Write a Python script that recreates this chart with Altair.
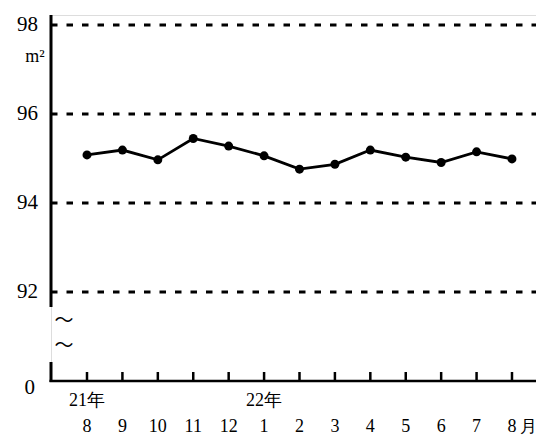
import altair as alt
import pandas as pd

# ---- data ----
months = ["8", "9", "10", "11", "12", "1", "2", "3", "4", "5", "6", "7", "8"]
values = [95.08, 95.19, 94.97, 95.45, 95.28, 95.06, 94.76, 94.87, 95.19, 95.03, 94.91, 95.15, 94.99]
year_labels = ["21年", "22年"]
year_index = [0, 5]
y_ticks = [98, 96, 94, 92]
zero_label = "0"
break_value = 90  # the axis is broken: 0 drawn at the 90 position
unit_label = "m²"
month_suffix = "月"
break_mark = "〜"

W, H = 485, 366
FONT = "Liberation Serif"
CJK = "Noto Sans CJK JP"

df = pd.DataFrame({"i": list(range(len(months))), "v": values, "m": months})
df_years = pd.DataFrame({"i": year_index, "t": year_labels})
df_y = pd.DataFrame({"v": y_ticks, "t": [str(v) for v in y_ticks]})
df_zero = pd.DataFrame({"v": [break_value], "t": [zero_label]})
one = pd.DataFrame({"k": [0]})

xs = alt.Scale(domain=[-1.0165, 12.678], nice=False, zero=False)
ys = alt.Scale(domain=[90, 98.2247], nice=False, zero=False)

X = alt.X("i:Q", scale=xs, axis=None)
Y = alt.Y("v:Q", scale=ys, axis=None)

base = alt.Chart(df)
single = alt.Chart(one)

grid = alt.Chart(df_y).mark_rule(color="black", strokeWidth=3, strokeDash=[6.5, 9]).encode(
    y=alt.Y("v:Q", scale=ys, axis=None), x=alt.value(0), x2=alt.value(W)
)

yaxis1 = single.mark_rule(color="black", strokeWidth=3).encode(
    x=alt.value(0), y=alt.value(0), y2=alt.value(292)
)
yaxis2 = single.mark_rule(color="black", strokeWidth=3).encode(
    x=alt.value(0), y=alt.value(347), y2=alt.value(H + 1)
)
xaxis = single.mark_rule(color="black", strokeWidth=2.5).encode(
    x=alt.value(-1.5), x2=alt.value(W), y=alt.value(H)
)
xticks = base.mark_rule(color="black", strokeWidth=2.5).encode(
    x=X, y=alt.value(H - 9), y2=alt.value(H)
)

ylab = alt.Chart(df_y).mark_text(align="right", baseline="middle", font=FONT, fontSize=21).encode(
    y=alt.Y("v:Q", scale=ys, axis=None), x=alt.value(-13), text="t:N"
)
zlab = alt.Chart(df_zero).mark_text(align="right", baseline="middle", font=FONT, fontSize=21, dy=7).encode(
    y=alt.Y("v:Q", scale=ys, axis=None), x=alt.value(-16), text="t:N"
)
unit = single.mark_text(align="center", baseline="middle", font=FONT, fontSize=18).encode(
    x=alt.value(-16), y=alt.value(42), text=alt.value(unit_label)
)
tilde1 = single.mark_text(align="center", baseline="middle", font=CJK, fontSize=19).encode(
    x=alt.value(13), y=alt.value(306), text=alt.value(break_mark)
)
tilde2 = single.mark_text(align="center", baseline="middle", font=CJK, fontSize=19).encode(
    x=alt.value(13), y=alt.value(331), text=alt.value(break_mark)
)

mlab = base.mark_text(align="center", baseline="alphabetic", font=FONT, fontSize=18).encode(
    x=X, y=alt.value(417), text="m:N"
)
getsu = single.mark_text(align="center", baseline="alphabetic", font=FONT, fontSize=17).encode(
    x=alt.value(477), y=alt.value(417), text=alt.value(month_suffix)
)
ylabs = alt.Chart(df_years).mark_text(align="center", baseline="alphabetic", font=FONT, fontSize=18).encode(
    x=alt.X("i:Q", scale=xs, axis=None), y=alt.value(391), text="t:N"
)

line = base.mark_line(color="black", strokeWidth=2.8).encode(x=X, y=Y)
pts = base.mark_circle(color="black", opacity=1, size=80).encode(x=X, y=Y)

chart = alt.layer(
    grid, yaxis1, yaxis2, xaxis, xticks, ylab, zlab, unit, tilde1, tilde2,
    mlab, getsu, ylabs, line, pts
).properties(
    width=W, height=H,
    autosize=alt.AutoSizeParams(type="none"),
    padding={"left": 43, "top": 7, "right": 0, "bottom": 57},
).configure_view(stroke=None).configure(background="white")

chart.save("out.html", embed_options={"renderer": "svg", "actions": False})
